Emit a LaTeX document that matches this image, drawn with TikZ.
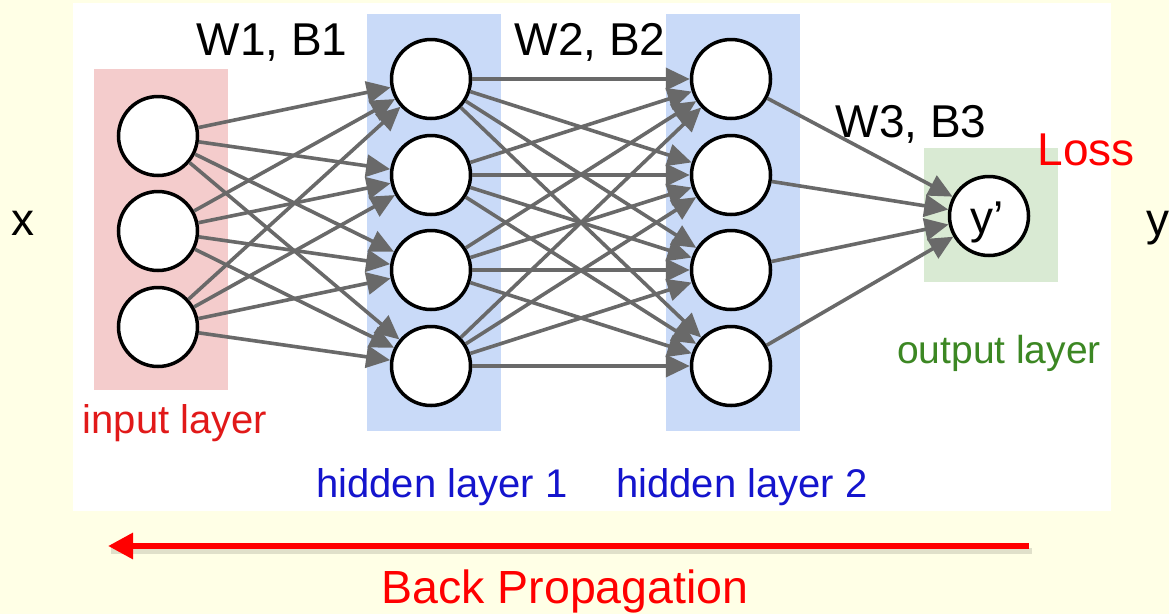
\documentclass[tikz,border=0pt]{standalone}
\usepackage{fontspec}
\setmainfont{Liberation Sans}
\usetikzlibrary{arrows.meta}
\definecolor{bgyellow}{RGB}{255,255,230}
\definecolor{pinkbox}{RGB}{244,204,204}
\definecolor{bluebox}{RGB}{201,218,248}
\definecolor{greenbox}{RGB}{217,234,211}
\definecolor{edgegray}{RGB}{105,105,105}
\definecolor{inred}{RGB}{225,25,25}
\definecolor{hidblue}{RGB}{20,20,205}
\definecolor{outgreen}{RGB}{60,135,35}
\tikzset{
  neuron/.style={circle, draw=black, line width=3.5pt, fill=white, minimum size=79pt, inner sep=0pt},
  conn/.style={draw=edgegray, line width=3.6pt, -{Triangle[length=24pt,width=22pt]}},
  bigtxt/.style={anchor=base, inner sep=0pt, font=\fontsize{46pt}{52pt}\selectfont},
  laytxt/.style={anchor=base, inner sep=0pt, font=\fontsize{40pt}{46pt}\selectfont},
  backarrow/.style={draw=red, line width=6pt, -{Triangle[length=25pt,width=25pt]}}
}
\begin{document}
\begin{tikzpicture}[x=1pt,y=-1pt]
\useasboundingbox (0,0) rectangle (1169,614);
\fill[bgyellow] (0,0) rectangle (1169,614);
\fill[white] (73,3) rectangle (1111,511);
% layer boxes
\fill[pinkbox] (94,69) rectangle (228,390);
\fill[bluebox] (367,14) rectangle (501,431);
\fill[bluebox] (666,14) rectangle (800,431);
\fill[greenbox] (924,148) rectangle (1058,282);
% neurons
\node[neuron] (i1) at (158,136) {};
\node[neuron] (i2) at (158,231) {};
\node[neuron] (i3) at (158,327) {};
\node[neuron] (a1) at (431,79) {};
\node[neuron] (a2) at (431,175) {};
\node[neuron] (a3) at (431,270) {};
\node[neuron] (a4) at (431,366) {};
\node[neuron] (b1) at (731,79) {};
\node[neuron] (b2) at (731,175) {};
\node[neuron] (b3) at (731,270) {};
\node[neuron] (b4) at (731,366) {};
\node[neuron] (o) at (989,216) {};
% connections
\foreach \s in {1,2,3} \foreach \t in {1,2,3,4} \draw[conn] (i\s) -- (a\t);
\foreach \s in {1,2,3,4} \foreach \t in {1,2,3,4} \draw[conn] (a\s) -- (b\t);
\foreach \s in {1,2,3,4} \draw[conn] (b\s) -- (o);
% texts
\node[bigtxt] (yp) at (987,233) {y’};
\node[bigtxt] (w1) at (272,55) {W1, B1};
\node[bigtxt] (w2) at (590,55) {W2, B2};
\node[bigtxt] (w3) at (911,137) {W3, B3};
\node[bigtxt, text=red] (loss) at (1086,165) {Loss};
\node[bigtxt] (xin) at (23,235) {x};
\node[bigtxt, anchor=base west] (yout) at (1146,235) {y};
\node[laytxt, text=inred] (inl) at (175,433) {input layer};
\node[laytxt, text=hidblue] (h1l) at (442,497) {hidden layer 1};
\node[laytxt, text=hidblue] (h2l) at (742,497) {hidden layer 2};
\node[laytxt, text=outgreen, font=\fontsize{39pt}{45pt}\selectfont] (outl) at (999,363) {output layer};
% back propagation arrow
\coordinate (bpstart) at (1029,546);
\coordinate (bpend) at (108,546);
\draw[line width=6pt, black, opacity=0.12] ([shift={(3,5)}]bpstart) -- ([shift={(3,5)}]bpend);
\draw[backarrow] (bpstart) -- (bpend);
\node[anchor=base, inner sep=0pt, text=red, font=\fontsize{46.5pt}{52pt}\selectfont] (bp) at (565,603) {Back Propagation};
\end{tikzpicture}
\end{document}
